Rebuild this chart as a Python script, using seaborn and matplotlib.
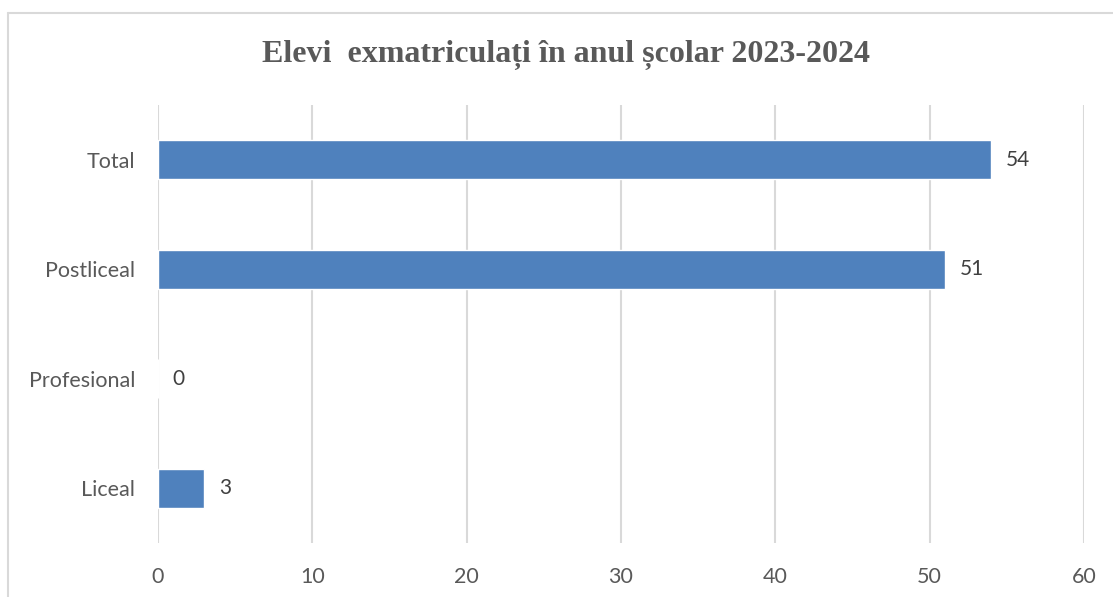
import matplotlib
matplotlib.use("Agg")
import matplotlib.pyplot as plt
import seaborn as sns
import pandas as pd
from matplotlib.lines import Line2D

categories = ["Total", "Postliceal", "Profesional", "Liceal"]
values = [54, 51, 0, 3]
xticks = [0, 10, 20, 30, 40, 50, 60]
title = "Elevi  exmatriculați în anul școlar 2023-2024"

sns.set_theme(style="white")
plt.rcParams['font.family'] = ['Lato', 'DejaVu Sans']

df = pd.DataFrame({"cat": categories, "val": values})

fig = plt.figure(figsize=(11.13, 5.97), dpi=100)
ax = fig.add_axes([158/1113, 1-543/597, (1084-158)/1113, (543-105)/597])

sns.barplot(data=df, x="val", y="cat", order=categories, color="#4F81BD",
            saturation=1, width=0.355, ax=ax, zorder=3)

ax.set_xlim(0, 60)
ax.set_ylim(3.5, -0.5)
ax.set_xticks(xticks)
ax.set_xticklabels([str(t) for t in xticks])
ax.grid(axis="x", color="#D9D9D9", linewidth=1.5, zorder=0)
ax.grid(axis="y", visible=False)
for s in ax.spines.values():
    s.set_visible(False)
ax.set_xlabel("")
ax.set_ylabel("")
ax.tick_params(axis="both", length=0, labelsize=15.5, labelcolor="#595959")
ax.tick_params(axis="y", pad=16.5)
ax.tick_params(axis="x", pad=17.5)

for i, v in enumerate(values):
    ax.text(v + 0.95, i, str(v), va="center", ha="left", fontsize=15, color="#404040")

fig.text(566/1113, 1-55/597, title, ha="center", va="center",
         fontsize=23, fontweight="bold", color="#595959", family="Liberation Serif")

fig.add_artist(Line2D([8/1113, 8/1113], [1-13/597, 0.0], transform=fig.transFigure,
                      color="#D9D9D9", linewidth=1.5))
fig.add_artist(Line2D([8/1113, 1.0], [1-13/597, 1-13/597], transform=fig.transFigure,
                      color="#D9D9D9", linewidth=1.5))

fig.savefig("out.png", dpi=100)
